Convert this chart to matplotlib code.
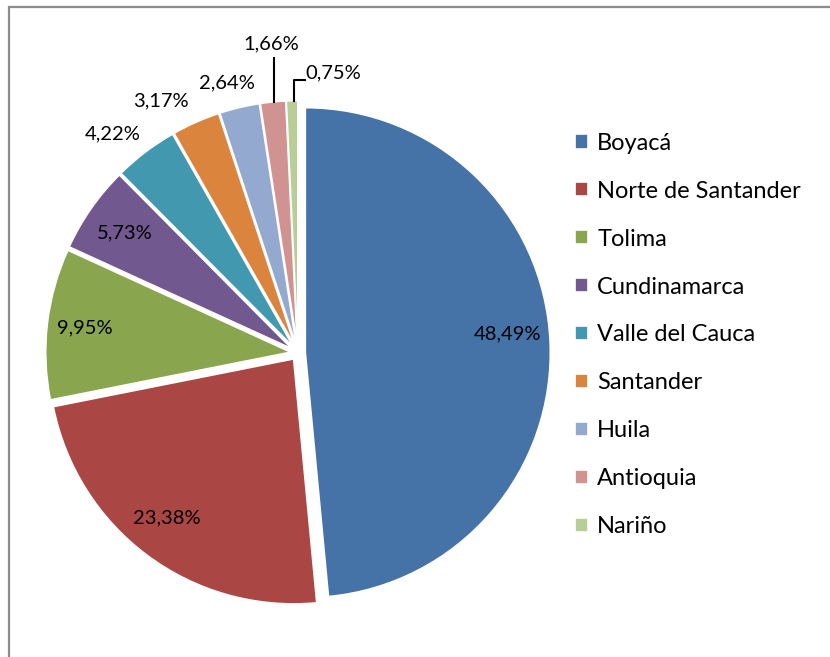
import numpy as np
import matplotlib.pyplot as plt
from matplotlib.patches import Rectangle

plt.rcParams['font.family'] = ['Lato', 'DejaVu Sans']

departamentos = ['Boyacá', 'Norte de Santander', 'Tolima', 'Cundinamarca',
                 'Valle del Cauca', 'Santander', 'Huila', 'Antioquia', 'Nariño']
porcentajes = [48.49, 23.38, 9.95, 5.73, 4.22, 3.17, 2.64, 1.66, 0.75]
etiquetas = ['48,49%', '23,38%', '9,95%', '5,73%', '4,22%', '3,17%',
             '2,64%', '1,66%', '0,75%']
colores = ['#4572A7', '#AA4643', '#89A54E', '#71588F', '#4198AF',
           '#DB843D', '#93A9CF', '#D19392', '#B9CD96']

W, H = 830, 657
fig = plt.figure(figsize=(W / 100, H / 100), dpi=100)
ax = fig.add_axes([0, 0, 1, 1])

cx, cy, R = 298, 304, 245
# matplotlib aplica explode sin escalar por el radio
explode = [0.03 * R] * len(porcentajes)
wedges, _ = ax.pie(porcentajes, colors=colores, startangle=90, counterclock=False,
                   explode=explode, radius=R, center=(cx, cy),
                   wedgeprops=dict(edgecolor='white', linewidth=1.2))
ax.set_xlim(0, W)
ax.set_ylim(0, H)
ax.set_aspect('equal')
ax.axis('off')

fs = 14.5
# etiquetas de datos (distancia relativa al radio, giro en grados)
dist = [0.86, 0.86, 0.875, 0.86, 1.17, 1.17, 1.14]
giro = [2.5, -1.9, 0, 0, 3.1, 4.6, 1.4]
for w, lab, d, g in zip(wedges[:7], etiquetas[:7], dist, giro):
    ang = np.deg2rad((w.theta1 + w.theta2) / 2 + g)
    ax.text(cx + d * R * np.cos(ang), cy + d * R * np.sin(ang), lab,
            ha='center', va='center', fontsize=fs, color='black')

# etiquetas con linea guia
w = wedges[7]
ang = np.deg2rad((w.theta1 + w.theta2) / 2)
x0 = cx + 1.03 * R * np.cos(ang) + 1
y0 = cy + 1.03 * R * np.sin(ang)
ax.plot([x0, x0], [y0, y0 + 44], color='black', lw=1.5)
ax.text(x0 - 3, y0 + 58, etiquetas[7], ha='center', va='center', fontsize=fs)

w = wedges[8]
ang = np.deg2rad((w.theta1 + w.theta2) / 2)
x0 = cx + 1.03 * R * np.cos(ang) + 2
y0 = cy + 1.03 * R * np.sin(ang)
ax.plot([x0, x0, x0 + 11], [y0, y0 + 21, y0 + 21], color='black', lw=1.5)
ax.text(x0 + 11, y0 + 28, etiquetas[8], ha='left', va='center', fontsize=fs)

leg = ax.legend(wedges, departamentos, loc='upper left',
                bbox_to_anchor=(563 / W, 1 - 121 / H), frameon=False,
                fontsize=17, handlelength=0.55, handleheight=0.55,
                handletextpad=0.4, labelspacing=1.14, borderpad=0)

fig.patches.append(Rectangle((9 / W, -0.1), 1.2, 1.1 - 7 / H, transform=fig.transFigure,
                             fill=False, edgecolor='#8c8c8c', linewidth=1.6))

fig.savefig('out.png', dpi=100)
